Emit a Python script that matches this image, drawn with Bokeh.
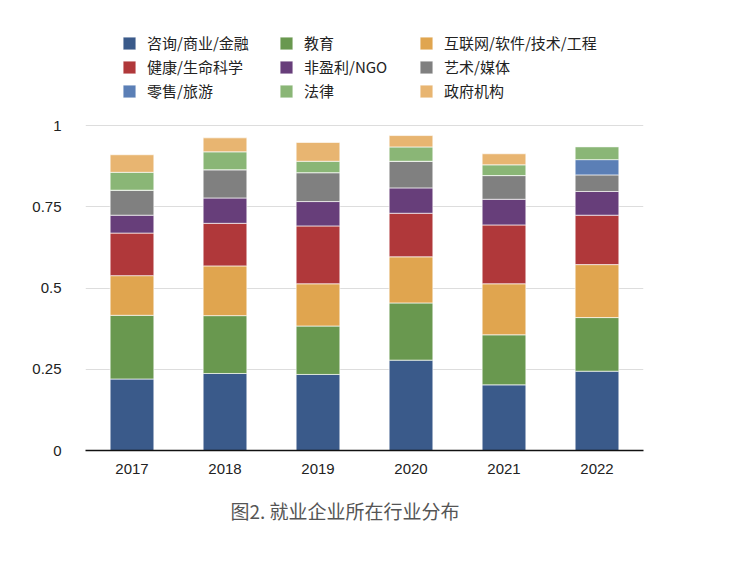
from bokeh.plotting import figure
from bokeh.models import FactorRange, Range1d, FixedTicker, Legend, LegendItem, Title
from bokeh.embed import file_html
from bokeh.resources import INLINE

years = ["2017", "2018", "2019", "2020", "2021", "2022"]
categories = ["咨询/商业/金融", "教育", "互联网/软件/技术/工程",
              "健康/生命科学", "非盈利/NGO", "艺术/媒体",
              "零售/旅游", "法律", "政府机构"]
consulting = [0.220, 0.237, 0.234, 0.278, 0.202, 0.244]
education = [0.196, 0.178, 0.149, 0.176, 0.154, 0.165]
tech = [0.122, 0.153, 0.130, 0.142, 0.157, 0.163]
health = [0.131, 0.131, 0.178, 0.134, 0.181, 0.152]
nonprofit = [0.055, 0.078, 0.075, 0.078, 0.079, 0.073]
arts = [0.077, 0.087, 0.089, 0.082, 0.073, 0.051]
retail = [0.0, 0.0, 0.0, 0.0, 0.0, 0.047]
law = [0.055, 0.055, 0.035, 0.044, 0.033, 0.040]
government = [0.054, 0.043, 0.058, 0.035, 0.034, 0.0]
y_ticks = [0, 0.25, 0.5, 0.75, 1]
y_tick_labels = ["0", "0.25", "0.5", "0.75", "1"]
caption = "图2. 就业企业所在行业分布"

keys = ["consulting", "education", "tech", "health", "nonprofit",
        "arts", "retail", "law", "government"]
colors = ["#3A5A8A", "#69984F", "#E0A54F", "#B0383A", "#673E7A",
          "#808080", "#5B7FB6", "#8AB676", "#E8B571"]

data = dict(years=years, consulting=consulting, education=education, tech=tech,
            health=health, nonprofit=nonprofit, arts=arts, retail=retail,
            law=law, government=government)

left, right, top, bottom = 85, 91, 18, 116
frame_w, frame_h = 558, 432
W, H = left + frame_w + right, top + frame_h + bottom
px_per_unit = 325.0

p = figure(width=W, height=H, x_range=FactorRange(*years),
           y_range=Range1d(0, frame_h / px_per_unit),
           output_backend="svg", toolbar_location=None,
           min_border_left=left, min_border_right=right,
           min_border_top=top, min_border_bottom=bottom)
p.x_range.range_padding = 0
p.outline_line_color = None
p.background_fill_color = "white"
p.border_fill_color = "white"

rs = p.vbar_stack(keys, x="years", width=0.47, source=data, color=colors,
                  line_color="white", line_width=0.8, line_alpha=0.8)

p.xgrid.grid_line_color = None
p.ygrid.ticker = FixedTicker(ticks=y_ticks)
p.ygrid.grid_line_color = "#DDDDDD"
p.ygrid.grid_line_width = 1

p.yaxis.ticker = FixedTicker(ticks=y_ticks)
p.yaxis.major_label_overrides = {t: l for t, l in zip(y_ticks, y_tick_labels)}
p.yaxis.axis_line_color = None
p.yaxis.major_tick_line_color = None
p.yaxis.minor_tick_line_color = None
p.yaxis.major_label_standoff = 18
p.yaxis.major_label_text_font_size = "15px"
p.yaxis.major_label_text_color = "#222222"
p.yaxis.major_label_text_font = "Liberation Sans"

p.xaxis.axis_line_color = "#111111"
p.xaxis.axis_line_width = 1.5
p.xaxis.major_tick_line_color = None
p.xaxis.minor_tick_line_color = None
p.xaxis.major_label_standoff = 7
p.xaxis.major_label_text_font_size = "15px"
p.xaxis.major_label_text_color = "#222222"
p.xaxis.major_label_text_font = "Liberation Sans"

col_x = [36, 193, 333]
for c in range(3):
    items = [LegendItem(label=categories[r * 3 + c], renderers=[rs[r * 3 + c]])
             for r in range(3)]
    leg = Legend(items=items, location=(col_x[c], 349), orientation="vertical",
                 glyph_width=16, glyph_height=16, label_height=20, spacing=3,
                 label_standoff=10, padding=0, margin=0,
                 border_line_color=None, background_fill_alpha=0,
                 label_text_font="Noto Sans CJK SC", label_text_font_size="15px",
                 label_text_color="#222222")
    p.add_layout(leg, "center")

t = Title(text=caption, align="left", offset=145, text_font_size="19px",
          text_font_style="normal", text_color="#555555",
          text_font="Noto Sans CJK SC", standoff=37)
p.add_layout(t, "below")

open("out.html", "w").write(file_html(p, INLINE))
